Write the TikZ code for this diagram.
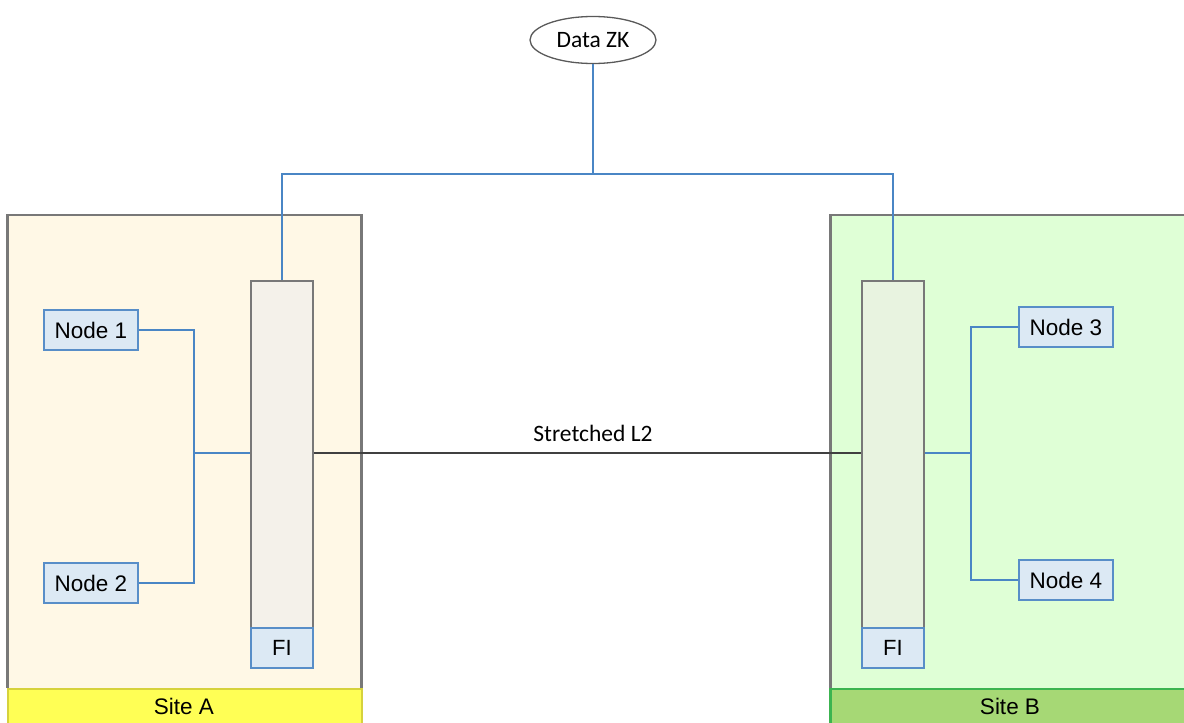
\documentclass[tikz,border=0pt]{standalone}
\usepackage{fontspec}
\setmainfont{Liberation Sans}
\newfontfamily\calib{Carlito}
\usetikzlibrary{shapes.geometric}

\definecolor{linkblue}{RGB}{74,134,197}
\definecolor{boxblue}{RGB}{88,142,200}
\definecolor{nodefill}{RGB}{220,233,244}
\definecolor{framegray}{RGB}{120,120,120}
\definecolor{sitefillA}{RGB}{255,248,230}
\definecolor{sitefillB}{RGB}{223,255,214}
\definecolor{bandA}{RGB}{255,255,85}
\definecolor{bandAline}{RGB}{214,210,60}
\definecolor{bandB}{RGB}{166,216,117}
\definecolor{bandBline}{RGB}{60,180,80}
\definecolor{colfillA}{RGB}{244,241,234}
\definecolor{colfillB}{RGB}{232,243,224}

\tikzset{
  sitebox/.style={draw=framegray, line width=1.6pt, anchor=north west, inner sep=0pt},
  bandbox/.style={anchor=north west, inner sep=0pt, line width=1.6pt,
                  font=\fontsize{22.5}{24}\selectfont},
  fabcol/.style={draw=framegray, line width=1.8pt, anchor=north west, inner sep=0pt,
                 minimum width=62pt, minimum height=387pt},
  fibox/.style={draw=boxblue, fill=nodefill, line width=1.8pt, anchor=north west,
                inner sep=0pt, minimum width=62pt, minimum height=40pt,
                font=\fontsize{22}{24}\selectfont},
  hostbox/.style={draw=boxblue, fill=nodefill, line width=1.8pt, inner sep=0pt,
                  minimum width=94pt, minimum height=40pt,
                  font=\fontsize{22.5}{24}\selectfont},
  link/.style={draw=linkblue, line width=1.8pt},
  trunk/.style={draw=black!75, line width=1.8pt},
}

\begin{document}
\begin{tikzpicture}[x=1pt,y=-1pt]
\useasboundingbox (0,0) rectangle (1184,723);

% site areas
\node[sitebox, fill=sitefillA, minimum width=354pt, minimum height=520pt] (siteA) at (7,214) {};
\node[sitebox, fill=sitefillB, minimum width=360pt, minimum height=520pt] (siteB) at (830,214) {};
\node[bandbox, fill=bandA, draw=bandAline, minimum width=354pt, minimum height=40pt] (bandA) at (7,688) {};
\node[bandbox, fill=bandB, draw=bandBline, minimum width=360pt, minimum height=40pt] (bandB) at (830,688) {};
\draw[framegray, line width=1.6pt] (7,214) -- (7,688) (361,214) -- (361,688);
\draw[framegray, line width=1.6pt] (830,214) -- (830,688);
\draw[bandBline, line width=1.6pt] (830,688) -- (830,723);
\node[font=\fontsize{22.5}{24}\selectfont] (labA) at (184,706) {Site A};
\node[font=\fontsize{22.5}{24}\selectfont] (labB) at (1010,706) {Site B};

% fabric interconnect columns
\node[fabcol, fill=colfillA] (fiA) at (250,280) {};
\node[fabcol, fill=colfillB] (fiB) at (861,280) {};
\node[fibox] (fiAlab) at (250,627) {FI};
\node[fibox] (fiBlab) at (861,627) {FI};

% hosts
\node[hostbox] (n1) at (91,330) {Node 1};
\node[hostbox] (n2) at (91,583) {Node 2};
\node[hostbox] (n3) at (1066,327) {Node 3};
\node[hostbox] (n4) at (1066,580) {Node 4};

% zookeeper
\node[ellipse, draw=black!65, line width=1.3pt, fill=white, minimum width=126pt,
      minimum height=47pt, inner sep=0pt, font=\calib\fontsize{23.5}{25}\selectfont]
      (zk) at (593,40) {Data ZK};

% junction points
\coordinate (bus) at (593,174);
\coordinate (jA) at (194,453);
\coordinate (jB) at (971,453);

% uplinks to the zookeeper
\draw[link] (zk.south) -- (bus);
\draw[link] (fiA.north) |- (bus) -| (fiB.north);

% host links
\draw[link] (n1.east) -| (jA) |- (n2.east);
\draw[link] (jA) -- (fiA.west |- jA);
\draw[link] (n3.west) -| (jB) |- (n4.west);
\draw[link] (jB) -- (fiB.east |- jB);

% stretched layer 2 between the sites
\draw[trunk] (fiA.east |- jA) -- (fiB.west |- jA);
\node[font=\calib\fontsize{23.5}{25}\selectfont] (l2) at (593,433) {Stretched L2};
\end{tikzpicture}
\end{document}
